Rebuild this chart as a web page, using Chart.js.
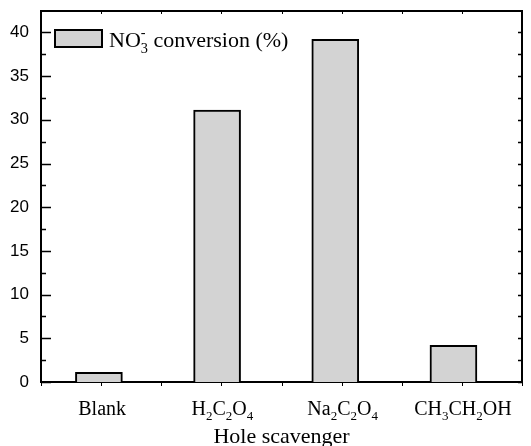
<!DOCTYPE html>
<html>
<head>
<meta charset="utf-8">
<script src="https://cdn.jsdelivr.net/npm/chart.js@4"></script>
<style>
  html, body { margin: 0; padding: 0; background: #fff; }
  #wrap { width: 531px; height: 446px; }
</style>
</head>
<body>
<div id="wrap"><canvas id="chart" width="531" height="446"></canvas></div>
<script>
// data
const categories = ['Blank', 'H₂C₂O₄', 'Na₂C₂O₄', 'CH₃CH₂OH'];
const conversion = [1.1, 31.1, 39.2, 4.2];
const seriesLabel = 'NO₃⁻ conversion (%)';
const xTitle = 'Hole scavenger';
const yTicks = [0, 5, 10, 15, 20, 25, 30, 35, 40];

const SERIF = '"Liberation Serif", "Times New Roman", serif';
const SANS = '"Liberation Sans", Arial, sans-serif';

// draw text where ₀-₉ become subscripts and ⁻ becomes a superscript
const SUB = '₀₁₂₃₄₅₆₇₈₉';
function richWidth(ctx, text, size) {
  let w = 0, lastSub = 0;
  for (const ch of text) {
    if (SUB.includes(ch)) {
      ctx.font = (size * 0.65) + 'px ' + SERIF;
      lastSub = ctx.measureText(String(SUB.indexOf(ch))).width;
      w += lastSub;
    } else if (ch === '⁻') {
      ctx.font = (size * 0.65) + 'px ' + SERIF;
      const m = ctx.measureText('-').width;
      if (m > lastSub) w += m - lastSub;
      lastSub = 0;
    } else {
      ctx.font = size + 'px ' + SERIF;
      w += ctx.measureText(ch).width;
      lastSub = 0;
    }
  }
  return w;
}
function drawRich(ctx, text, x, y, size, align) {
  if (align === 'center') x -= richWidth(ctx, text, size) / 2;
  ctx.textAlign = 'left';
  ctx.textBaseline = 'alphabetic';
  let subStart = null, subW = 0;
  for (const ch of text) {
    if (SUB.includes(ch)) {
      ctx.font = (size * 0.65) + 'px ' + SERIF;
      const d = String(SUB.indexOf(ch));
      subStart = x; subW = ctx.measureText(d).width;
      ctx.fillText(d, x, y + size * 0.25);
      x += subW;
    } else if (ch === '⁻') {
      ctx.font = (size * 0.65) + 'px ' + SERIF;
      const m = ctx.measureText('-').width;
      const sx = subStart !== null ? subStart : x;
      ctx.fillText('-', sx, y - size * 0.45);
      x = Math.max(x, sx + m);
      subStart = null;
    } else {
      ctx.font = size + 'px ' + SERIF;
      ctx.fillText(ch, x, y);
      x += ctx.measureText(ch).width;
      subStart = null;
    }
  }
}

const framePlugin = {
  id: 'frame',
  afterDraw(chart) {
    const ctx = chart.ctx;
    const area = chart.chartArea;
    const y = chart.scales.y;
    const xt = chart.scales.xt;
    ctx.save();
    ctx.strokeStyle = '#000';
    ctx.fillStyle = '#000';
    ctx.lineWidth = 1.5;

    // y ticks, inward, major + minor on the left, small on the right
    for (let v = 0; v <= y.max; v += 2.5) {
      const py = Math.round(y.getPixelForValue(v)) + 0.5;
      const major = v % 5 === 0;
      ctx.beginPath();
      ctx.moveTo(area.left, py);
      ctx.lineTo(area.left + (major ? 10 : 5), py);
      ctx.moveTo(area.right, py);
      ctx.lineTo(area.right - 4, py);
      ctx.stroke();
    }
    // x ticks every half category: out at the bottom, in at the top
    ctx.lineWidth = 1;
    for (let i = xt.min; i <= xt.max; i++) {
      const px = Math.round(xt.getPixelForValue(i)) + 0.5;
      ctx.beginPath();
      ctx.moveTo(px, area.bottom);
      ctx.lineTo(px, area.bottom + 4);
      ctx.moveTo(px, area.top);
      ctx.lineTo(px, area.top + 3);
      ctx.stroke();
    }

    // category labels under the tick centres
    categories.forEach((c, i) => {
      drawRich(ctx, c, xt.getPixelForValue(2 * i + 1) + 1, area.bottom + 33, 20, 'center');
    });
    // axis title
    drawRich(ctx, xTitle, (area.left + area.right) / 2, area.bottom + 61, 22, 'center');

    // legend inside the plot
    const ds = chart.data.datasets[0];
    ctx.fillStyle = ds.backgroundColor;
    ctx.fillRect(55, 30, 47, 17);
    ctx.lineWidth = 2;
    ctx.strokeStyle = '#000';
    ctx.strokeRect(55, 30, 47, 17);
    ctx.fillStyle = '#000';
    drawRich(ctx, ds.label, 109, 47, 22, 'left');
    ctx.restore();
  }
};

const axisBorder = { display: true, color: '#000', width: 2 };
const noPad = s => { s.paddingTop = 0; s.paddingBottom = 0; s.paddingLeft = 0; s.paddingRight = 0; };

new Chart(document.getElementById('chart'), {
  type: 'bar',
  data: {
    datasets: [{
      label: seriesLabel,
      data: conversion.map((v, i) => ({ x: i, y: v })),
      backgroundColor: '#d3d3d3',
      borderColor: '#000',
      borderWidth: 2,
      barThickness: 47
    }]
  },
  options: {
    responsive: false,
    animation: false,
    layout: { padding: { top: 11, right: 9, left: 0, bottom: 0 } },
    plugins: {
      legend: { display: false },
      tooltip: { enabled: false }
    },
    scales: {
      x: {
        type: 'linear',
        position: 'bottom',
        offset: false,
        min: -0.49,
        max: 3.58,
        grid: { display: false, offset: false, drawTicks: false },
        border: axisBorder,
        ticks: { display: false },
        afterFit: s => { s.height = 64; noPad(s); }
      },
      xt: {
        type: 'linear',
        position: 'top',
        offset: false,
        min: 0,
        max: 8,
        grid: { display: false, offset: false, drawTicks: false },
        border: axisBorder,
        ticks: { display: false },
        afterFit: s => { s.height = 0; noPad(s); }
      },
      y: {
        min: 0,
        max: 42.45,
        afterBuildTicks: s => { s.ticks = yTicks.map(v => ({ value: v })); },
        grid: { display: false, drawTicks: false },
        border: axisBorder,
        ticks: {
          color: '#000',
          padding: 12,
          font: { family: SANS, size: 17 }
        },
        afterFit: s => { s.width = 41; noPad(s); }
      },
      y2: {
        position: 'right',
        min: 0,
        max: 42.45,
        grid: { display: false, drawTicks: false },
        border: axisBorder,
        ticks: { display: false },
        afterFit: s => { s.width = 0; noPad(s); }
      }
    }
  },
  plugins: [framePlugin]
});
</script>
</body>
</html>
